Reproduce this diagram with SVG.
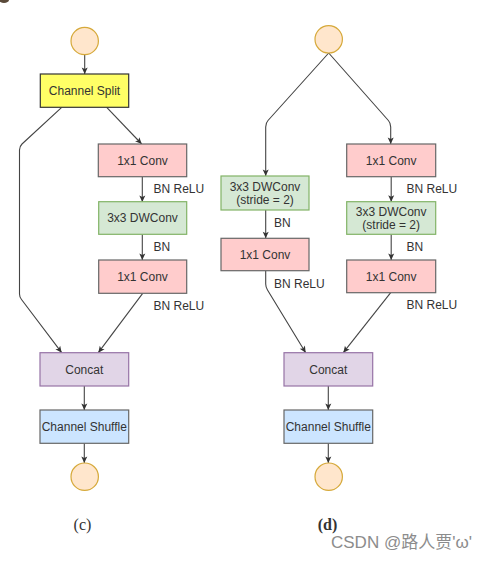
<svg xmlns="http://www.w3.org/2000/svg" width="488" height="561" viewBox="0 0 488 561">
<defs>
<style>
.lbl{font-family:"Liberation Sans",Arial,sans-serif;font-size:12px;fill:#333;}
.ctr{text-anchor:middle;}
.conn{fill:none;stroke:#444;stroke-width:1.1;stroke-linejoin:round;}
.circ{fill:#ffe6cc;stroke:#d6a93a;stroke-width:1.2;}
.split{fill:#ffff66;stroke:#333;stroke-width:1.2;}
.conv{fill:#ffcccc;stroke:#666;stroke-width:1.2;}
.dw{fill:#d5e8d4;stroke:#82b366;stroke-width:1.2;}
.cat{fill:#e1d5e7;stroke:#9673a6;stroke-width:1.2;}
.shuf{fill:#cce5ff;stroke:#666;stroke-width:1.2;}
.cap{font-family:"Liberation Serif","Times New Roman",serif;font-size:16px;fill:#333;text-anchor:middle;}
</style>
<marker id="arr" markerWidth="8" markerHeight="8" refX="7" refY="4" orient="auto" markerUnits="userSpaceOnUse">
<path d="M0.5,1 L7,4 L0.5,7 L2,4 z" fill="#333"/>
</marker>
</defs>
<rect width="488" height="561" fill="#fff"/>
<ellipse cx="4" cy="0" rx="5" ry="3" fill="#5a4a3a"/>

<g id="connectors">
<!-- (c) -->
<path class="conn" d="M84.7,55 L84.7,74" marker-end="url(#arr)"/>
<path class="conn" d="M61.7,107.3 L22,144 Q19.5,146.5 19.5,150 L19.5,294 Q19.5,297 21.5,299.5 L61.7,352.7" marker-end="url(#arr)"/>
<path class="conn" d="M106.7,107.3 L141.7,144" marker-end="url(#arr)"/>
<path class="conn" d="M142.3,177 L142.3,202" marker-end="url(#arr)"/>
<path class="conn" d="M142.3,234.3 L142.3,260" marker-end="url(#arr)"/>
<path class="conn" d="M142.7,293.3 L98.3,352.7" marker-end="url(#arr)"/>
<path class="conn" d="M84.3,386 L84.3,410" marker-end="url(#arr)"/>
<path class="conn" d="M84.3,443.3 L84.3,463" marker-end="url(#arr)"/>
<!-- (d) -->
<path class="conn" d="M328.7,53 L268,120.5 Q265.7,123 265.7,127 L265.7,176" marker-end="url(#arr)"/>
<path class="conn" d="M328.7,53 L388.4,120.5 Q390.7,123 390.7,127 L390.7,144" marker-end="url(#arr)"/>
<path class="conn" d="M265.7,210 L265.7,238.3" marker-end="url(#arr)"/>
<path class="conn" d="M265.7,270.7 L265.7,284 Q265.7,287 267.5,290 L305.7,352.7" marker-end="url(#arr)"/>
<path class="conn" d="M391.2,176.7 L391.2,201.7" marker-end="url(#arr)"/>
<path class="conn" d="M391.2,234.3 L391.2,260" marker-end="url(#arr)"/>
<path class="conn" d="M390.7,292.7 L343.3,352.7" marker-end="url(#arr)"/>
<path class="conn" d="M328.3,386 L328.3,410" marker-end="url(#arr)"/>
<path class="conn" d="M328.3,443.3 L328.3,463" marker-end="url(#arr)"/>
</g>

<g id="labels">
<text class="lbl" x="153.5" y="193">BN ReLU</text>
<text class="lbl" x="153.5" y="251">BN</text>
<text class="lbl" x="153.5" y="310">BN ReLU</text>
<text class="lbl" x="274" y="226.5">BN</text>
<text class="lbl" x="274" y="287.5">BN ReLU</text>
<text class="lbl" x="406.5" y="193">BN ReLU</text>
<text class="lbl" x="406.5" y="251">BN</text>
<text class="lbl" x="406.5" y="309">BN ReLU</text>
</g>

<!-- (c) nodes -->
<g id="c_in"><circle class="circ" cx="84.7" cy="41" r="13.7"/></g>
<g id="c_split"><rect class="split" x="40.3" y="74" width="88.4" height="33.3"/><text class="lbl ctr" x="84.5" y="95">Channel Split</text></g>
<g id="c_conv1"><rect class="conv" x="98.3" y="144" width="88.4" height="32.7"/><text class="lbl ctr" x="142.5" y="164.5">1x1 Conv</text></g>
<g id="c_dw"><rect class="dw" x="98.7" y="201.7" width="88" height="32.6"/><text class="lbl ctr" x="142.5" y="222">3x3 DWConv</text></g>
<g id="c_conv2"><rect class="conv" x="98.7" y="260" width="88" height="33.3"/><text class="lbl ctr" x="142.5" y="280.5">1x1 Conv</text></g>
<g id="c_concat"><rect class="cat" x="40" y="352.7" width="88.7" height="33.3"/><text class="lbl ctr" x="84.3" y="373.5">Concat</text></g>
<g id="c_shuffle"><rect class="shuf" x="40" y="410" width="88.7" height="33.3"/><text class="lbl ctr" x="84.3" y="431">Channel Shuffle</text></g>
<g id="c_out"><circle class="circ" cx="84.7" cy="476.7" r="13.7"/></g>

<!-- (d) nodes -->
<g id="d_in"><circle class="circ" cx="328.7" cy="39.3" r="13.7"/></g>
<g id="d_ldw"><rect class="dw" x="221" y="176" width="88" height="34"/><text class="lbl ctr" x="265" y="190.5">3x3 DWConv</text><text class="lbl ctr" x="265" y="204">(stride = 2)</text></g>
<g id="d_lconv"><rect class="conv" x="221" y="238.3" width="88" height="32.4"/><text class="lbl ctr" x="265" y="258.5">1x1 Conv</text></g>
<g id="d_rconv1"><rect class="conv" x="346.7" y="144" width="89" height="32.7"/><text class="lbl ctr" x="391.2" y="164.5">1x1 Conv</text></g>
<g id="d_rdw"><rect class="dw" x="346.7" y="201.7" width="89" height="32.6"/><text class="lbl ctr" x="391.2" y="215.5">3x3 DWConv</text><text class="lbl ctr" x="391.2" y="229">(stride = 2)</text></g>
<g id="d_rconv2"><rect class="conv" x="346.7" y="260" width="89" height="32.7"/><text class="lbl ctr" x="391.2" y="280.5">1x1 Conv</text></g>
<g id="d_concat"><rect class="cat" x="284" y="352.7" width="88.7" height="33.3"/><text class="lbl ctr" x="328.3" y="373.5">Concat</text></g>
<g id="d_shuffle"><rect class="shuf" x="284" y="410" width="88.7" height="33.3"/><text class="lbl ctr" x="328.3" y="431">Channel Shuffle</text></g>
<g id="d_out"><circle class="circ" cx="328.7" cy="476.7" r="13.7"/></g>

<text class="cap" x="82.5" y="530">(c)</text>
<text class="cap" x="327.5" y="530" font-weight="bold">(d)</text>
<text x="331" y="547.5" font-family="'Liberation Sans','Noto Sans CJK SC',sans-serif" font-size="17" fill="#8c8c8c">CSDN @路人贾'ω'</text>
</svg>
